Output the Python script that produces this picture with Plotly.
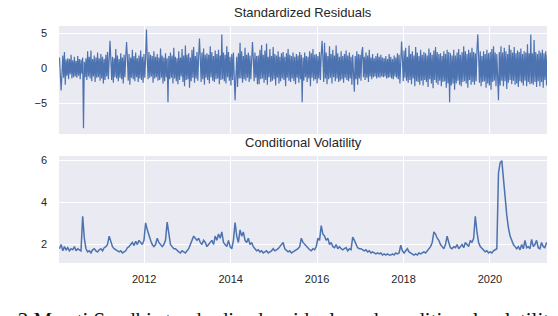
import pandas as pd
import plotly.graph_objects as go
from plotly.subplots import make_subplots

start_date = "2010-01-15"
resid_step = "7D"
vol_step = "14D"

residuals = [
    1.5, -1.2, -3.2, -0.9, 1.8, -1.4, 2.3, -2.4, 1.2, -1.1,
    1.4, -1.6, 1.3, -0.9, 1.9, -1.5, 1.1, -1.3, 1.6, -1.2,
    1.0, -1.4, 1.7, -1.1, 1.3, -1.6, 1.2, -0.8, 1.5, -8.6,
    0.9, -1.3, 1.4, -1.7, 2.4, -1.2, 1.6, -1.5, 2.5, -1.9,
    1.3, -1.2, 1.8, -2.0, 1.5, -1.4, 2.2, -1.3, 1.4, -1.8,
    2.0, -1.5, 1.6, -2.2, 1.3, -1.7, 1.9, -1.2, 2.3, -1.6,
    1.5, 3.9, 1.2, -1.7, 1.6, -2.1, 1.4, -1.3, 2.7, -1.5,
    1.8, -1.9, 1.3, -1.4, 2.1, -1.6, 1.5, -2.2, 1.9, -1.3,
    1.6, 3.7, 1.4, -1.8, 2.0, -2.4, 1.5, -1.4, 2.6, -1.6,
    1.7, -1.9, 2.2, -1.3, 1.4, -2.0, 1.8, -1.5, 2.5, -1.7,
    1.6, -2.1, 2.0, -1.4, 1.5, 5.5, 1.3, -1.6, 2.3, -1.4,
    1.9, -1.2, 1.7, -2.1, 2.4, -1.5, 1.6, -1.3, 2.0, -1.8,
    1.5, -1.7, 2.8, -1.4, 1.8, -2.2, 1.5, -1.9, 2.1, -1.3,
    1.4, -4.9, 1.7, -1.6, 2.2, -1.4, 1.8, -2.2, 2.9, -1.5,
    1.6, -1.9, 1.4, -2.3, 2.4, -1.7, 1.5, -1.2, 2.7, -2.0,
    1.8, -2.6, 3.2, -1.7, 1.9, -1.6, 2.1, -2.8, 1.5, -1.9,
    2.6, -1.4, 3.0, -2.1, 1.7, -1.5, 2.3, -1.8, 1.6, 4.2,
    1.5, -2.0, 2.2, -1.6, 2.8, -2.4, 1.9, -1.4, 2.1, -1.7,
    1.9, -2.2, 3.1, -1.3, 2.3, -1.8, 1.7, -2.0, 2.5, -1.6,
    2.0, -1.5, 2.6, -2.3, 1.8, -1.7, 4.8, -1.6, 2.2, -1.9,
    1.9, -2.2, 3.1, -1.3, 2.3, -1.8, 1.6, -2.5, 2.0, -1.7,
    2.2, -1.6, -4.6, -1.2, 1.6, -2.7, 2.1, -1.5, 3.6, -1.5,
    2.4, -2.1, 1.7, -1.6, 2.9, -1.8, 1.9, -1.4, 2.2, -2.0,
    1.8, -1.6, 2.0, 3.7, 1.4, -1.9, 2.2, -1.4, 1.7, -2.3,
    1.8, -2.3, 2.6, -1.6, 3.3, -1.5, 1.9, -2.1, 2.5, -1.7,
    3.5, -2.4, 1.6, -1.3, 2.7, -2.0, 1.7, -1.8, 3.0, -1.6,
    2.0, -2.5, 1.8, -1.4, 2.4, -2.2, 1.6, -1.9, 2.1, -1.5,
    2.3, -1.7, 1.6, -2.6, 2.1, -1.4, 2.7, -1.8, 1.9, -2.0,
    1.7, -1.5, 2.2, -1.9, 1.6, -2.3, 2.0, -1.4, 1.8, -2.1,
    2.3, -1.6, 1.9, -4.9, 1.5, -1.8, 2.2, -1.3, 1.7, -2.0,
    1.6, -1.5, 2.4, -2.6, 2.1, -1.4, 2.7, -1.8, 1.9, -1.6,
    2.0, -2.2, 1.7, -1.5, 2.3, -1.7, 1.8, 3.9, 1.5, -2.0,
    3.6, -1.5, 2.2, -2.3, 1.7, -1.6, 3.1, -1.4, 2.0, -2.2,
    2.6, -1.3, 1.8, -1.9, 3.2, -1.5, 2.1, -2.0, 1.6, -1.8,
    2.4, -1.6, 1.7, -2.1, 2.0, -1.4, 2.5, -1.7, 1.8, -1.9,
    2.2, -1.5, 1.6, -2.4, 1.9, -1.8, -3.4, 1.7, -1.6, 2.4,
    -2.4, 2.0, -1.5, 1.9, -1.8, 2.3, 3.0, -1.3, 1.6, -1.7,
    2.2, -1.4, 1.8, -2.0, 2.6, -1.2, 1.5, -1.6, 2.0, -1.3,
    1.4, -1.2, 1.7, -1.5, 2.1, -1.3, 1.6, -1.4, 1.9, -1.2,
    1.5, -1.3, 1.4, -1.2, 1.7, -1.5, 1.3, -1.4, 2.0, -1.3,
    1.6, -1.5, 1.3, -1.6, 1.8, -1.2, 1.5, -1.4, 2.1, -1.6,
    1.9, -2.2, 1.6, 3.8, 1.4, -1.9, 2.5, -1.4, 2.9, -1.8,
    1.6, -2.1, 3.2, -1.7, 2.0, -2.3, 2.4, -1.5, 1.8, -2.6,
    3.0, -1.9, 2.2, -2.0, 1.7, -2.4, 2.6, -1.8, 1.9, -2.5,
    2.3, -1.7, 2.1, -2.0, 1.8, -2.7, 2.8, -1.6, 2.2, -2.2,
    1.9, -2.9, 2.5, -1.7, 3.0, -2.1, 2.3, -2.4, 2.0, -1.8,
    2.1, -2.6, 1.7, -2.0, 2.4, -1.9, 2.0, -2.8, 2.6, -2.2,
    2.3, -4.9, 2.1, -2.5, 1.8, -2.2, 2.6, -3.1, 1.8, -2.2,
    2.2, -1.8, 2.7, -2.4, 1.9, -2.6, 2.3, -2.0, 3.1, -1.9,
    2.4, -2.2, 2.0, -2.8, 2.6, -1.7, 2.2, -2.4, 2.9, -2.0,
    2.3, -2.4, 2.1, -1.9, 2.5, 4.8, 1.8, -2.1, 2.4, -2.6,
    1.7, -2.0, 2.4, -1.9, 2.0, -2.8, 2.6, -2.2, 2.1, -2.5,
    2.3, -3.1, 2.7, -2.0, 3.1, -1.8, 2.2, -2.6, 2.0, -2.3,
    -4.6, 2.3, -2.5, 3.1, -1.8, 2.2, -2.6, 2.9, -1.9, 2.4,
    -3.0, 2.0, -2.1, 3.3, -1.7, 2.6, -2.3, 2.2, -1.8, 3.0,
    -2.4, 2.1, -2.2, 2.5, -2.7, 2.3, -1.9, 2.8, -2.1, 2.0,
    -2.5, 2.4, -1.8, 2.2, -2.6, 3.4, -2.0, 2.1, -2.3, 4.8,
    -2.2, 2.1, -2.4, 4.0, -2.0, 2.3, -2.7, 2.0, -1.9, 2.5,
    -2.6, 2.2, -2.0, 2.6, -2.8, 2.1, -1.7, 2.4, -2.5, 1.9,
]

volatility = [
    1.8, 2.0, 1.7, 1.9, 1.75, 1.85, 1.7, 1.8, 1.75, 1.9,
    1.7, 1.8, 1.75, 1.7, 3.35, 2.3, 1.8, 1.65, 1.7, 1.6,
    1.75, 1.8, 1.7, 1.65, 1.75, 1.8, 1.7, 1.85, 1.9, 2.0,
    2.4, 2.1, 1.9, 1.8, 1.75, 1.7, 1.65, 1.7, 1.6, 1.65,
    1.7, 1.85, 1.9, 2.0, 2.1, 1.95, 2.15, 2.0, 2.2, 2.1,
    2.0, 2.2, 3.03, 2.7, 2.4, 2.2, 2.0, 1.9, 2.0, 2.3,
    2.1, 2.0, 1.9, 2.0, 2.2, 3.07, 2.4, 2.0, 1.9, 1.8,
    1.8, 1.7, 1.65, 1.6, 1.7, 1.65, 1.6, 1.7, 1.8, 2.0,
    2.2, 2.4, 2.3, 2.2, 2.3, 2.1, 2.0, 2.2, 2.1, 1.9,
    2.0, 2.1, 2.2, 2.0, 2.4, 2.2, 2.5, 2.3, 2.6, 2.1,
    2.0, 1.9, 2.2, 1.9, 1.8, 2.2, 3.05, 2.4, 2.1, 2.7,
    2.4, 2.6, 2.2, 2.1, 2.3, 2.0, 2.1, 1.9, 1.8, 1.7,
    1.75, 1.65, 1.7, 1.6, 1.65, 1.7, 1.6, 1.65, 1.7, 1.8,
    1.7, 1.75, 1.8, 1.9, 2.0, 2.1, 1.8, 1.7, 1.65, 1.7,
    1.6, 1.65, 1.7, 1.75, 1.8, 1.9, 2.3, 2.1, 2.0, 1.9,
    1.8, 1.75, 1.7, 1.8, 1.75, 1.9, 2.3, 2.2, 2.9, 2.5,
    2.4, 2.2, 2.3, 2.0, 2.1, 1.9, 1.85, 2.0, 1.8, 1.9,
    1.8, 1.75, 1.8, 1.85, 1.7, 1.8, 1.75, 2.35, 2.2, 2.0,
    1.85, 1.8, 1.8, 1.75, 1.7, 1.75, 1.65, 1.7, 1.6, 1.65,
    1.6, 1.55, 1.6, 1.55, 1.6, 1.5, 1.55, 1.5, 1.55, 1.5,
    1.5, 1.55, 1.5, 1.6, 1.55, 1.6, 1.97, 1.7, 1.6, 1.7,
    1.8, 1.65, 1.6, 1.55, 1.5, 1.55, 1.5, 1.6, 1.55, 1.6,
    1.65, 1.6, 1.7, 1.8, 1.9, 2.1, 2.6, 2.5, 2.3, 2.2,
    2.0, 1.9, 1.8, 2.0, 2.4, 2.1, 1.85, 1.8, 1.9, 1.85,
    2.0, 1.8, 1.9, 2.0, 1.85, 2.1, 2.0, 1.9, 2.2, 2.1,
    2.3, 3.35, 2.6, 2.1, 1.9, 1.8, 1.7, 1.65, 1.7, 1.6,
    1.65, 1.6, 1.7, 1.75, 1.8, 5.4, 5.9, 6.0, 5.0, 4.2,
    3.4, 2.8, 2.4, 2.2, 2.0, 1.9, 1.8, 1.9, 1.75, 2.0,
    1.8, 2.2, 1.85, 1.9, 1.8, 2.25, 1.9, 2.0, 2.2, 1.85,
    1.8, 2.1, 1.9, 1.85, 2.1,
]

x_tick_years = ["2012", "2014", "2016", "2018", "2020"]
resid_ticks = [-5, 0, 5]
vol_ticks = [2, 4, 6]
titles = ["Standardized Residuals", "Conditional Volatility"]
caption = "g 3 Mersti Sandhi standardized residuals and conditional volatility"

resid_dates = pd.date_range(start=start_date, periods=len(residuals), freq=resid_step)
vol_dates = pd.date_range(start=start_date, periods=len(volatility), freq=vol_step)

LINE = "#4C72B0"
BG = "#EAEAF2"
TXT = "#262626"
FONT = "Liberation Sans, Arial, sans-serif"

fig = make_subplots(rows=2, cols=1, shared_xaxes=False, vertical_spacing=0.0)

fig.add_trace(go.Scatter(x=resid_dates, y=residuals, mode="lines",
                         line=dict(color=LINE, width=1.2), showlegend=False), row=1, col=1)
fig.add_trace(go.Scatter(x=vol_dates, y=volatility, mode="lines",
                         line=dict(color=LINE, width=1.5), showlegend=False), row=2, col=1)

tickvals = [pd.Timestamp(y + "-01-01") for y in x_tick_years]
xrange = ["2010-01-11", "2021-04-27"]

common_x = dict(range=xrange, tickvals=tickvals, showgrid=True, gridcolor="white",
                gridwidth=1, zeroline=False, showline=False, ticks="",
                ticklabelstandoff=8, tickfont=dict(size=11, color=TXT, family=FONT))
fig.update_xaxes(**common_x, showticklabels=False, row=1, col=1)
fig.update_xaxes(**common_x, ticktext=x_tick_years, showticklabels=True, row=2, col=1)
fig.update_xaxes(domain=[0, 1])

common_y = dict(showgrid=True, gridcolor="white", gridwidth=1, zeroline=False,
                showline=False, ticks="", ticklabelstandoff=11,
                tickfont=dict(size=11, color=TXT, family=FONT))
fig.update_yaxes(**common_y, range=[-9.43, 6.0], tickvals=resid_ticks,
                 domain=[0.544, 1.0], row=1, col=1)
fig.update_yaxes(**common_y, range=[1.12, 6.22], tickvals=vol_ticks,
                 domain=[0.0, 0.4515], row=2, col=1)

fig.add_annotation(text=titles[0], xref="paper", yref="paper", x=0.5, y=1.0,
                   yshift=4, xanchor="center", yanchor="bottom", showarrow=False,
                   font=dict(size=13, color=TXT, family=FONT))
fig.add_annotation(text=titles[1], xref="paper", yref="paper", x=0.5, y=0.4515,
                   yshift=4, xanchor="center", yanchor="bottom", showarrow=False,
                   font=dict(size=13, color=TXT, family=FONT))
fig.add_annotation(text=caption, xref="paper", yref="paper", x=-0.12, y=-0.182,
                   xanchor="left", yanchor="top", showarrow=False,
                   font=dict(size=21, color="#111111", family="Liberation Serif, Times New Roman, serif"))

fig.update_layout(width=558, height=316, margin=dict(l=59, r=11, t=26, b=53),
                  plot_bgcolor=BG, paper_bgcolor="white", showlegend=False)

fig.write_html("out.html", config={"displayModeBar": False},
               post_script="document.body.style.margin='0';document.body.style.overflow='hidden';")
